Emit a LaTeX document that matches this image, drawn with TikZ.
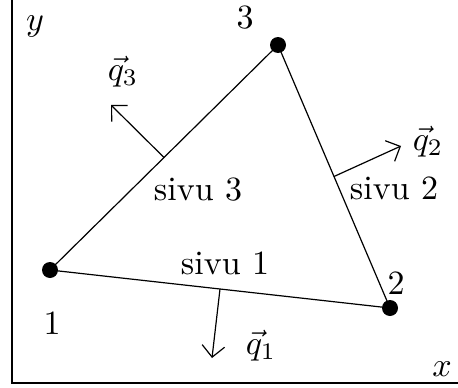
\documentclass[tikz,border=0pt]{standalone}
\usetikzlibrary{arrows.meta,calc}
\begin{document}
\begin{tikzpicture}[x=1pt,y=-1pt,
  lbl/.style={font=\normalsize, inner sep=0pt, scale=3.4},
  edge/.style={line width=1.2pt},
  vec/.style={line width=1.2pt, -{Straight Barb[angle=90:16pt, line width=1.2pt]}},
  dot/.style={circle, fill=black, minimum size=16pt, inner sep=0pt}]
\useasboundingbox (0,0) rectangle (458,388);
% frame
\coordinate (top) at (12,0);
\coordinate (corner) at (12,383);
\coordinate (right) at (458,383);
\draw[line width=2.6pt] (top) -- (corner) -- (right);
\node[lbl] (ylab) at (35,26) {$y$};
\node[lbl] (xlab) at (442,369) {$x$};
% vertices
\node[dot] (n1) at (50,270) {};
\node[dot] (n2) at (390,308) {};
\node[dot] (n3) at (278,45) {};
\draw[edge] (n1.center) -- (n2.center) -- (n3.center) -- cycle;
\node[lbl] (l1) at (52,323) {1};
\node[lbl] (l2) at (396,283) {2};
\node[lbl] (l3) at (245,18) {3};
\node[lbl] (s1) at (225,263) {sivu 1};
\node[lbl] (s2) at (394,188) {sivu 2};
\node[lbl] (s3) at (198,190) {sivu 3};
% normals
\coordinate (m12) at ($(n1.center)!0.5!(n2.center)$);
\coordinate (m23) at ($(n2.center)!0.5!(n3.center)$);
\coordinate (m13) at ($(n1.center)!0.5!(n3.center)$);
\coordinate (e1) at (212,358);
\coordinate (e2) at (401,146);
\coordinate (e3) at (111,105);
\draw[vec] (m12) -- (e1);
\draw[vec] (m23) -- (e2);
\draw[vec] (m13) -- (e3);
\node[lbl] (q1) at (261,346) {$\vec{q}_1$};
\node[lbl] (q2) at (428,142) {$\vec{q}_2$};
\node[lbl] (q3) at (123,72) {$\vec{q}_3$};
\end{tikzpicture}
\end{document}
